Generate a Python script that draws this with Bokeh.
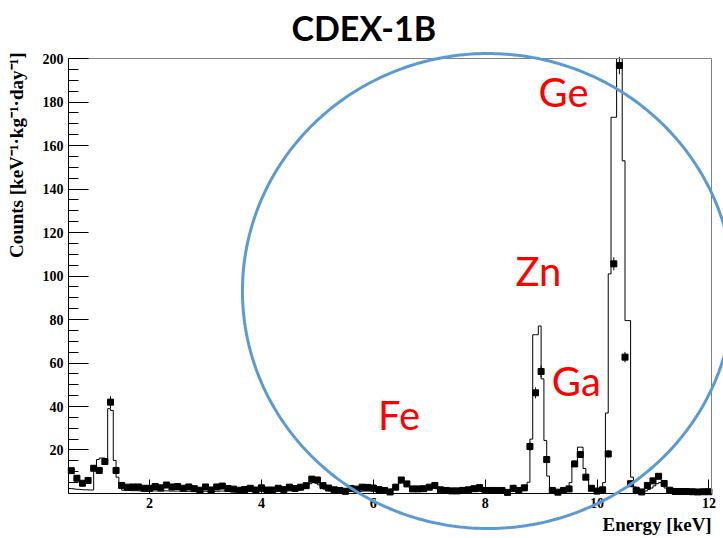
import numpy as np
from bokeh.plotting import figure
from bokeh.models import (ColumnDataSource, FixedTicker, Range1d, PolyAnnotation, Label, LinearAxis)
from bokeh.embed import file_html
from bokeh.resources import INLINE

# ---------------- data ----------------
# measured spectrum: 0.1 keV bins, centres 0.6 ... 12.0 keV
data_start = 0.6
data_width = 0.1
data_counts = [
    10.5, 7.0, 4.7, 6.0, 11.6, 10.6, 14.7, 42.0, 10.6, 3.7,
    2.9, 3.0, 3.0, 2.4, 2.4, 3.2, 2.6, 3.9, 3.0, 3.2,
    2.4, 3.0, 2.2, 1.5, 3.0, 1.6, 3.0, 3.4, 2.3, 2.0,
    1.5, 1.8, 2.4, 1.6, 2.6, 1.6, 1.6, 2.4, 1.8, 2.9,
    2.3, 2.9, 3.6, 6.6, 6.2, 3.6, 2.5, 1.7, 1.4, 1.0,
    2.3, 2.0, 2.9, 2.8, 2.5, 1.8, 1.4, 0.7, 2.9, 6.2,
    4.4, 2.1, 2.1, 2.2, 2.9, 3.7, 1.7, 1.4, 1.2, 1.2,
    1.4, 1.7, 2.2, 2.7, 1.4, 1.4, 1.4, 1.4, 0.5, 2.4,
    1.4, 2.6, 21.6, 46.3, 56.1, 15.6, 1.4, 0.6, 1.4, 2.1,
    13.6, 17.9, 7.5, 2.4, 1.1, 1.7, 18.2, 105.6, 196.8, 62.7,
    4.5, 1.5, 0.7, 3.7, 5.8, 7.9, 4.6, 1.5, 0.9, 0.9,
    0.9, 0.8, 0.7, 0.8, 0.8,
]
data_errors = [
    1.0, 0.9, 0.8, 0.9, 1.3, 1.3, 1.5, 2.7, 1.3, 0.8,
    0.7, 0.7, 0.7, 0.7, 0.7, 0.7, 0.7, 0.7, 0.7, 0.7,
    0.7, 0.7, 0.7, 0.7, 0.7, 0.7, 0.7, 0.7, 0.7, 0.7,
    0.7, 0.7, 0.7, 0.7, 0.7, 0.7, 0.7, 0.7, 0.7, 0.7,
    0.7, 0.7, 0.8, 1.0, 1.0, 0.8, 0.7, 0.7, 0.7, 0.7,
    0.7, 0.7, 0.7, 0.7, 0.7, 0.7, 0.7, 0.7, 0.7, 1.0,
    0.9, 0.7, 0.7, 0.7, 0.7, 0.8, 0.7, 0.7, 0.7, 0.7,
    0.7, 0.7, 0.7, 0.7, 0.7, 0.7, 0.7, 0.7, 0.7, 0.7,
    0.7, 0.7, 2.0, 2.5, 2.7, 1.5, 0.7, 0.7, 0.7, 0.7,
    1.4, 1.6, 1.1, 0.7, 0.7, 0.7, 1.7, 3.0, 4.0, 2.4,
    0.9, 0.7, 0.7, 0.8, 1.0, 1.1, 0.9, 0.7, 0.7, 0.7,
    0.7, 0.7, 0.7, 0.7, 0.7,
]

# model histogram: 0.05 keV bins, edges 0.55 ... 12.05 keV
model_start = 0.55
model_width = 0.05
model_counts = [
    2.3, 2.2, 2.0, 1.9, 1.8, 1.7, 1.7, 1.6, 1.6, 12.1,
    15.6, 16.3, 16.3, 14.0, 39.0, 38.2, 15.2, 7.5, 3.7, 1.5,
    1.4, 1.4, 1.3, 1.3, 1.3, 1.2, 1.2, 1.2, 1.2, 1.1,
    1.2, 1.2, 1.1, 1.1, 1.2, 1.2, 1.1, 1.1, 1.1, 1.1,
    1.1, 1.1, 1.0, 1.0, 1.1, 1.1, 1.0, 1.0, 1.0, 1.0,
    1.0, 1.0, 1.0, 1.0, 1.1, 1.1, 1.0, 1.0, 1.0, 1.0,
    1.0, 1.0, 1.0, 1.0, 1.0, 1.0, 1.0, 1.0, 1.0, 1.0,
    1.0, 1.0, 1.0, 1.0, 1.0, 1.0, 1.1, 1.1, 1.2, 1.2,
    1.2, 1.3, 1.5, 1.8, 2.5, 3.5, 4.5, 5.0, 4.8, 4.0,
    3.0, 2.0, 1.5, 1.2, 1.1, 1.0, 1.0, 1.0, 1.0, 1.0,
    1.0, 1.0, 1.0, 1.0, 1.0, 1.1, 1.1, 1.1, 1.1, 1.1,
    1.1, 1.1, 1.2, 1.3, 1.5, 2.0, 3.0, 4.0, 4.8, 5.0,
    4.5, 3.5, 2.5, 1.8, 1.4, 1.4, 1.5, 1.8, 2.2, 2.6,
    2.6, 2.2, 1.6, 1.2, 1.0, 0.9, 0.9, 0.9, 0.9, 0.9,
    0.9, 0.9, 0.9, 0.9, 0.9, 0.9, 0.9, 0.9, 0.9, 0.9,
    0.9, 0.9, 0.9, 0.9, 0.9, 0.9, 0.9, 0.9, 0.9, 1.0,
    1.0, 1.1, 1.3, 2.0, 5.2, 25.0, 73.0, 73.0, 77.0, 52.7,
    24.4, 8.0, 2.0, 1.2, 1.0, 1.0, 1.0, 1.2, 1.6, 5.0,
    14.7, 14.7, 21.3, 21.3, 11.5, 6.4, 3.0, 1.5, 1.2, 1.2,
    1.5, 5.0, 37.0, 101.0, 173.0, 173.0, 200.0, 200.0, 153.0, 79.5,
    79.5, 7.5, 3.0, 1.5, 1.0, 1.0, 1.2, 1.8, 2.5, 3.5,
    4.5, 5.0, 4.0, 2.5, 1.5, 1.0, 0.8, 0.8, 0.8, 0.8,
    0.8, 0.8, 0.8, 0.8, 0.8, 0.8, 0.8, 0.8, 0.8, 0.8,
]

x_ticks = [2, 4, 6, 8, 10, 12]
y_ticks = [20, 40, 60, 80, 100, 120, 140, 160, 180, 200]
y_minor = [v for v in range(5, 201, 5) if v % 20 != 0]

title_text = "CDEX-1B"
x_title = "Energy [keV]"
y_title = "Counts [keV\u207b\u00b9\u00b7kg\u207b\u00b9\u00b7day\u207b\u00b9]"

# element labels (keV, counts)
label_text = ["Ge", "Zn", "Ga", "Fe"]
label_x = [9.40, 8.95, 9.63, 6.46]
label_y = [184.8, 102.5, 51.5, 35.9]

# highlighted region (ellipse, data units)
ring_cx, ring_cy, ring_rx, ring_ry = 8.05, 93.1, 4.39, 109.2

# axis extents (histogram frame) and full view extents
X_AX = (0.55, 12.05)
Y_AX = (0.0, 200.0)
X_VIEW = (-0.666, 12.261)
Y_VIEW = (-20.7, 226.7)

# ---------------- derived ----------------
data_energy = np.round(data_start + data_width * np.arange(len(data_counts)), 3)
dc = np.array(data_counts)
de = np.array(data_errors)
pts = ColumnDataSource(dict(x=data_energy, y=dc, lo=dc - de, hi=dc + de))

edges = np.round(model_start + model_width * np.arange(len(model_counts) + 1), 3)
step_y = list(model_counts) + [model_counts[-1]]

SERIF = "Liberation Serif"

p = figure(width=723, height=538,
           x_range=Range1d(*X_VIEW), y_range=Range1d(*Y_VIEW),
           output_backend="svg", toolbar_location=None, title=None,
           min_border=0, min_border_left=0, min_border_right=0,
           min_border_top=0, min_border_bottom=0)
p.background_fill_color = "white"
p.border_fill_color = "white"
p.outline_line_color = None
p.xgrid.visible = False
p.ygrid.visible = False

# model histogram
p.step(edges, step_y, mode="after", line_color="black", line_width=1)

# data points with error bars
p.segment(x0="x", y0="lo", x1="x", y1="hi", source=pts, line_color="black", line_width=1)
p.scatter("x", "y", source=pts, marker="square", size=6, color="black")

# axes (fixed at the histogram frame)
xa = p.xaxis[0]
ya = p.yaxis[0]
xa.fixed_location = Y_AX[0]
xa.bounds = X_AX
ya.fixed_location = X_AX[0]
ya.bounds = Y_AX
for ax in (xa, ya):
    ax.axis_line_color = "black"
    ax.major_tick_line_color = "black"
    ax.minor_tick_line_color = "black"
    ax.major_tick_out = 0
    ax.minor_tick_out = 0
    ax.major_label_text_font = SERIF
    ax.major_label_text_font_style = "bold"
    ax.major_label_text_font_size = "14px"
    ax.major_label_text_color = "black"

xa.ticker = FixedTicker(ticks=x_ticks, minor_ticks=[])
xa.major_tick_in = 14
xa.major_label_standoff = 5

ya.ticker = FixedTicker(ticks=y_ticks, minor_ticks=y_minor)
ya.major_tick_in = 20
ya.minor_tick_in = 10
ya.major_label_standoff = 5

# grey frame lines on top and right
top_ax = LinearAxis(fixed_location=Y_AX[1], bounds=X_AX, ticker=FixedTicker(ticks=[]),
                    axis_line_color="#808080", major_tick_in=0, major_tick_out=0,
                    minor_tick_in=0, minor_tick_out=0)
right_ax = LinearAxis(fixed_location=X_AX[1], bounds=Y_AX, ticker=FixedTicker(ticks=[]),
                      axis_line_color="#808080", major_tick_in=0, major_tick_out=0,
                      minor_tick_in=0, minor_tick_out=0)
p.add_layout(top_ax, "above")
p.add_layout(right_ax, "right")

# titles
p.add_layout(Label(x=5.83, y=214.5, text=title_text, text_font="Lato",
                   text_font_style="bold", text_font_size="34px", text_color="black",
                   text_align="center", text_baseline="middle"))
p.add_layout(Label(x=X_AX[1], y=-14.3, text=x_title, text_font=SERIF,
                   text_font_style="bold", text_font_size="19px", text_color="black",
                   text_align="right", text_baseline="middle"))
p.add_layout(Label(x=-0.38, y=202.8, text=y_title, text_font=SERIF,
                   text_font_style="bold", text_font_size="19px", text_color="black",
                   text_align="right", text_baseline="middle", angle=np.pi / 2))

# ellipse highlight
t = np.linspace(0, 2 * np.pi, 400)
p.add_layout(PolyAnnotation(xs=list(ring_cx + ring_rx * np.cos(t)),
                            ys=list(ring_cy + ring_ry * np.sin(t)),
                            fill_color=None, fill_alpha=0,
                            line_color="#5b9bd5", line_alpha=1.0, line_width=3))

for txt, lx, ly in zip(label_text, label_x, label_y):
    p.add_layout(Label(x=lx, y=ly, text=txt, text_color="#ff0000",
                       text_font="Lato", text_font_size="40px",
                       text_align="center", text_baseline="middle"))

open("out.html", "w").write(file_html(p, INLINE))
